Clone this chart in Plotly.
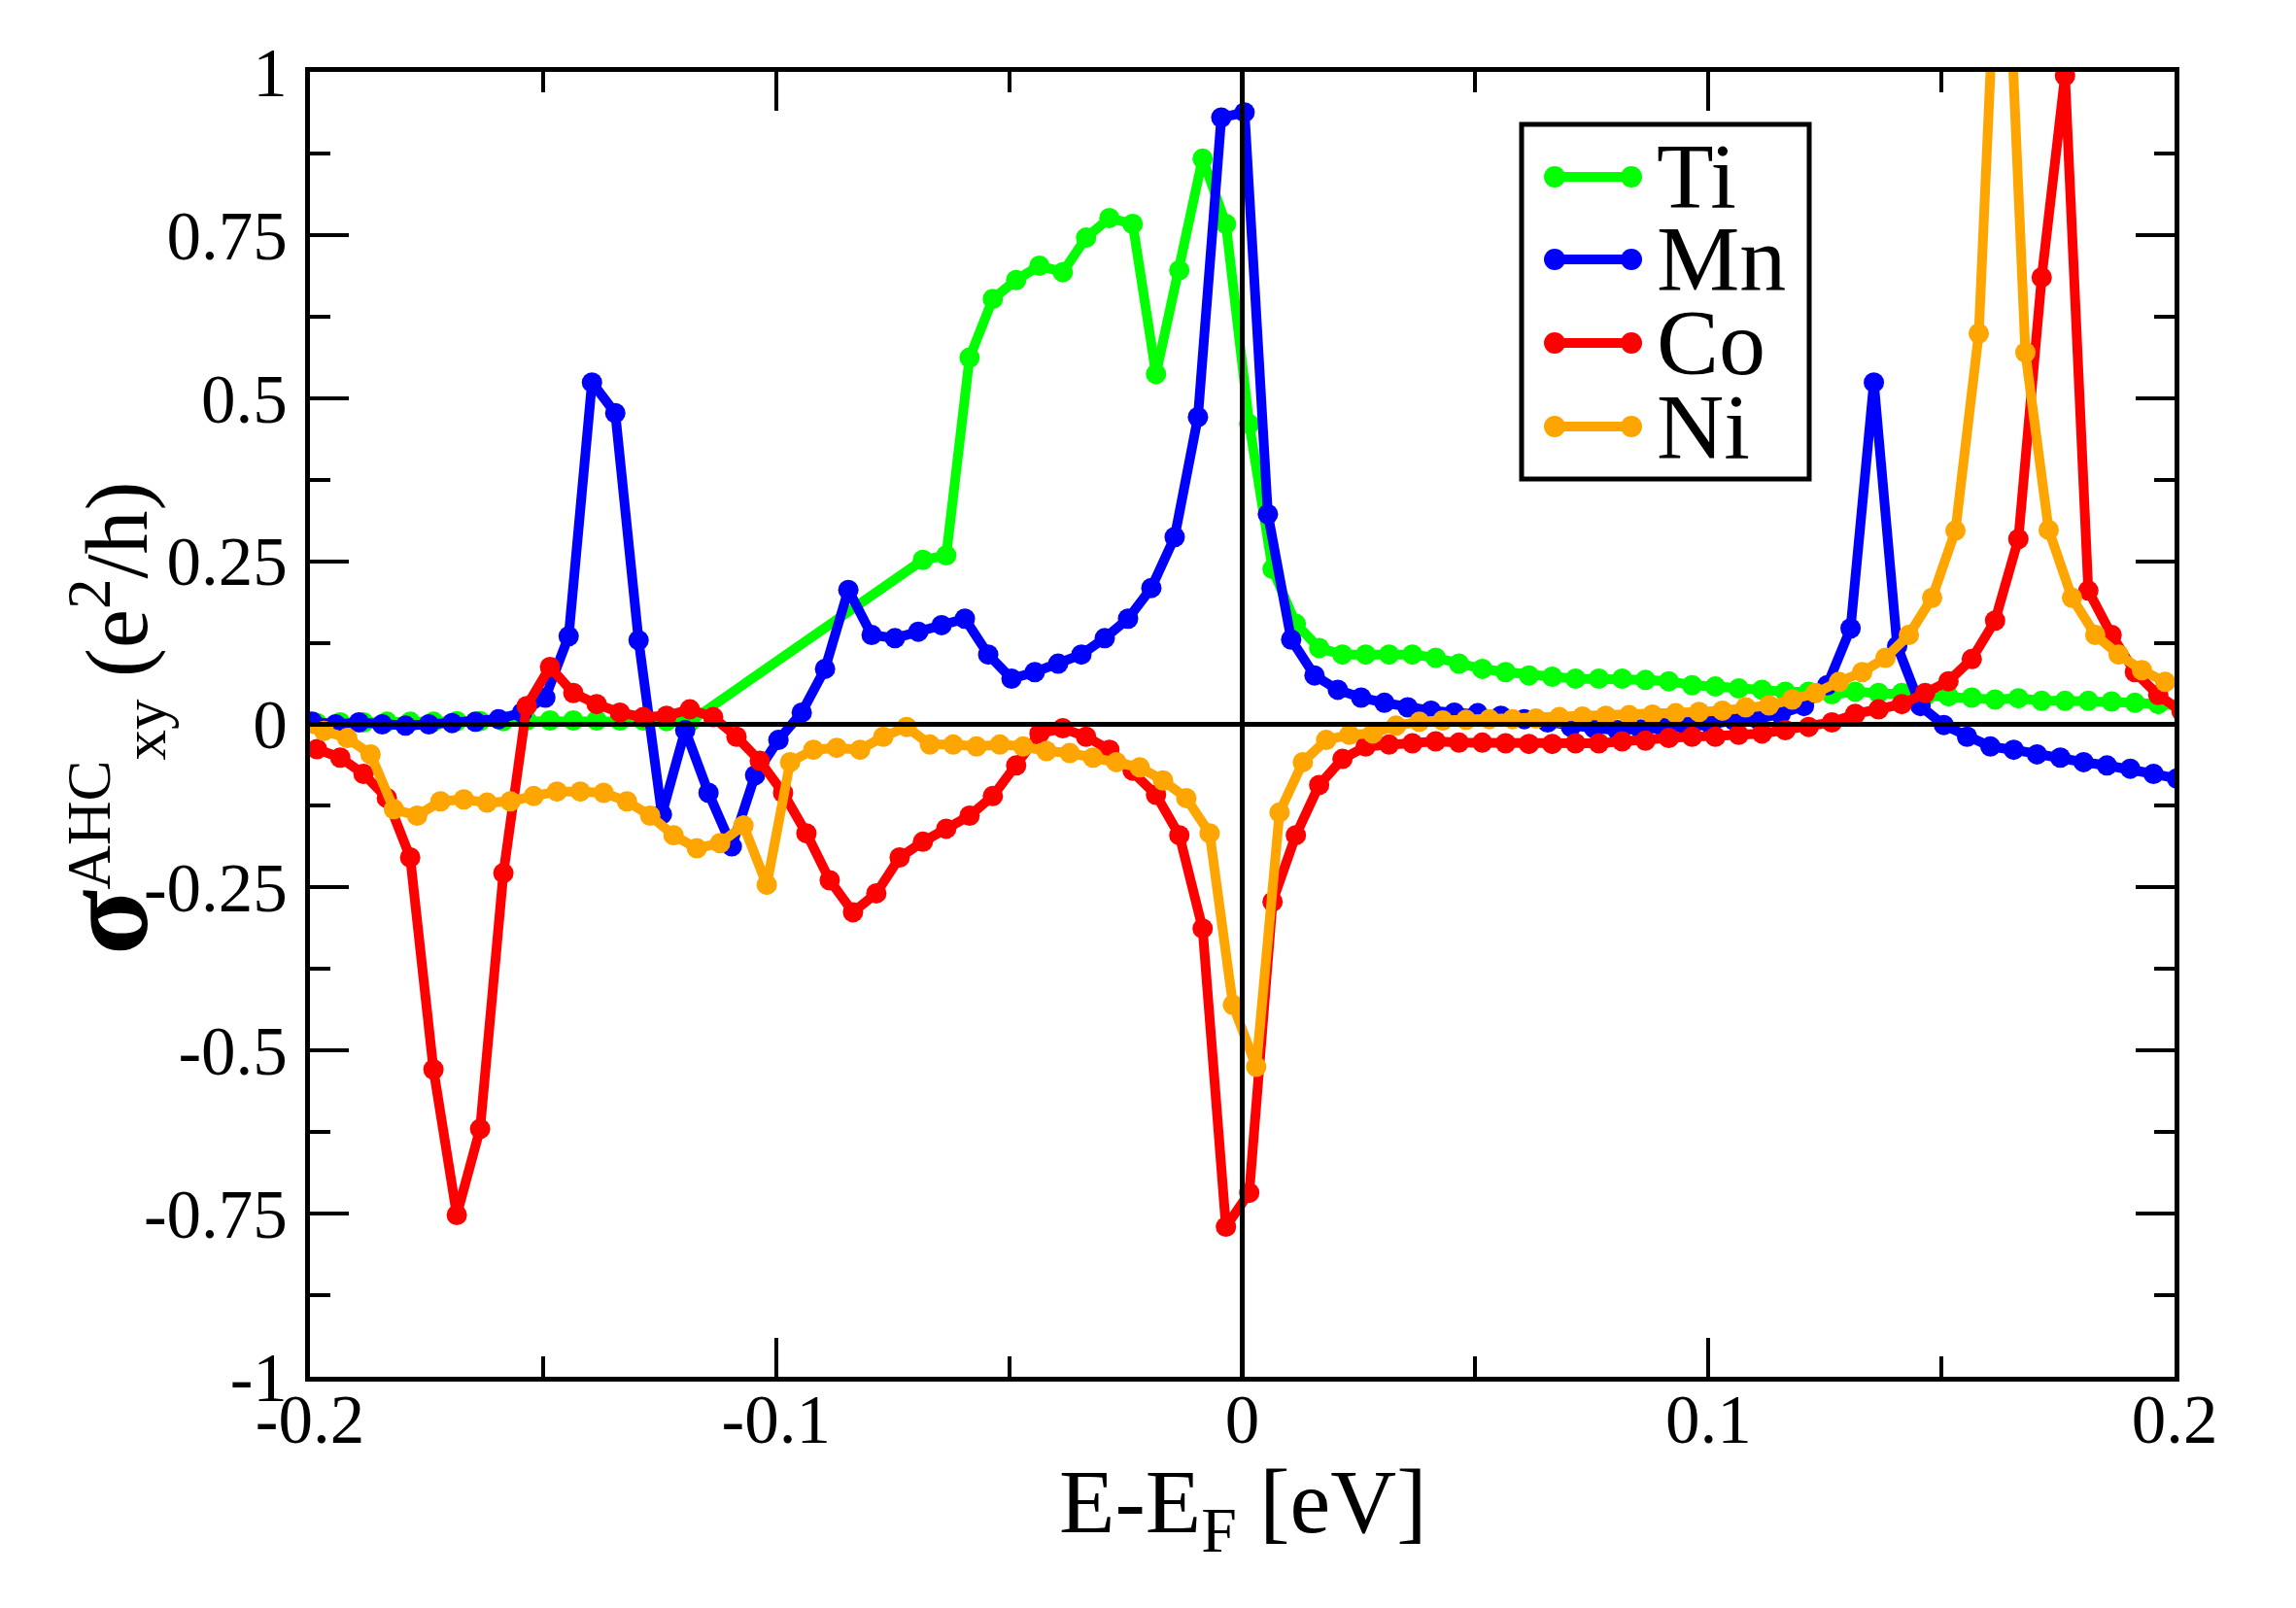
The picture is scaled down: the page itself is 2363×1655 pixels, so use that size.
import plotly.graph_objects as go

# ---------------- data ----------------
energy = [
    -0.200, -0.195, -0.190, -0.185, -0.180, -0.175, -0.170, -0.165, -0.160, -0.155,
    -0.150, -0.145, -0.140, -0.135, -0.130, -0.125, -0.120, -0.115, -0.110, -0.105,
    -0.100, -0.095, -0.090, -0.085, -0.080, -0.075, -0.070, -0.065, -0.060, -0.055,
    -0.050, -0.045, -0.040, -0.035, -0.030, -0.025, -0.020, -0.015, -0.010, -0.005,
    0.000, 0.005, 0.010, 0.015, 0.020, 0.025, 0.030, 0.035, 0.040, 0.045,
    0.050, 0.055, 0.060, 0.065, 0.070, 0.075, 0.080, 0.085, 0.090, 0.095,
    0.100, 0.105, 0.110, 0.115, 0.120, 0.125, 0.130, 0.135, 0.140, 0.145,
    0.150, 0.155, 0.160, 0.165, 0.170, 0.175, 0.180, 0.185, 0.190, 0.195,
    0.200,
]

# Fermi-level offsets of each compound's energy mesh (eV)
shift_ti = 0.0015
shift_mn = 0.0005
shift_co = 0.0015
shift_ni = -0.0020

ahc_ti = [
    0.002, 0.003, 0.003, 0.004, 0.004, 0.004, 0.005, 0.005, 0.005, 0.006,
    0.006, 0.006, 0.006, 0.006, 0.006, 0.005, 0.004, None, None, None,
    None, None, None, None, None, None, 0.252, 0.259, 0.562, 0.652,
    0.681, 0.703, 0.693, 0.746, 0.776, 0.767, 0.537, 0.696, 0.867, 0.767,
    0.460, 0.238, 0.154, 0.117, 0.107, 0.107, 0.107, 0.107, 0.102, 0.093,
    0.085, 0.080, 0.075, 0.073, 0.070, 0.070, 0.070, 0.068, 0.066, 0.060,
    0.058, 0.055, 0.053, 0.050, 0.050, 0.046, 0.050, 0.048, 0.048, 0.043,
    0.043, 0.041, 0.038, 0.040, 0.036, 0.036, 0.036, 0.035, 0.033, 0.031,
    0.028,
]

ahc_mn = [
    0.004, 0.000, 0.003, 0.000, -0.002, 0.000, 0.002, 0.004, 0.008, 0.018,
    0.041, 0.135, 0.524, 0.477, 0.129, -0.138, -0.009, -0.105, -0.187, -0.078,
    -0.024, 0.018, 0.085, 0.206, 0.137, 0.132, 0.142, 0.152, 0.162, 0.107,
    0.070, 0.080, 0.093, 0.107, 0.132, 0.162, 0.209, 0.287, 0.471, 0.930,
    0.938, 0.322, 0.130, 0.075, 0.053, 0.041, 0.033, 0.026, 0.021, 0.018,
    0.017, 0.013, 0.008, 0.003, -0.004, -0.006, -0.009, -0.008, -0.006, -0.004,
    0.000, 0.006, 0.008, 0.016, 0.028, 0.060, 0.147, 0.524, 0.120, 0.028,
    -0.001, -0.019, -0.034, -0.039, -0.046, -0.051, -0.058, -0.063, -0.068, -0.076,
    -0.083,
]

ahc_co = [
    -0.038, -0.051, -0.076, -0.113, -0.204, -0.529, -0.752, -0.620, -0.228, 0.028,
    0.088, 0.048, 0.031, 0.018, 0.011, 0.013, 0.023, 0.011, -0.019, -0.056,
    -0.105, -0.167, -0.239, -0.288, -0.259, -0.204, -0.180, -0.160, -0.140, -0.110,
    -0.063, -0.014, -0.006, -0.019, -0.039, -0.071, -0.108, -0.170, -0.313, -0.770,
    -0.718, -0.272, -0.170, -0.093, -0.053, -0.034, -0.031, -0.029, -0.026, -0.028,
    -0.028, -0.029, -0.030, -0.030, -0.029, -0.029, -0.026, -0.025, -0.021, -0.019,
    -0.019, -0.016, -0.014, -0.009, -0.004, 0.003, 0.016, 0.023, 0.031, 0.048,
    0.066, 0.100, 0.159, 0.284, 0.685, 0.994, 0.205, 0.137, 0.080, 0.045,
    0.020,
]

ahc_ni = [
    -0.004, -0.010, -0.021, -0.046, -0.130, -0.140, -0.118, -0.115, -0.120, -0.118,
    -0.110, -0.103, -0.103, -0.105, -0.118, -0.140, -0.170, -0.190, -0.182, -0.155,
    -0.246, -0.058, -0.039, -0.036, -0.039, -0.019, -0.004, -0.031, -0.031, -0.034,
    -0.031, -0.034, -0.041, -0.044, -0.051, -0.058, -0.066, -0.086, -0.113, -0.167,
    -0.430, -0.525, -0.135, -0.058, -0.024, -0.016, -0.014, -0.002, 0.004, 0.006,
    0.007, 0.008, 0.008, 0.009, 0.011, 0.012, 0.013, 0.014, 0.015, 0.017,
    0.019, 0.021, 0.026, 0.029, 0.038, 0.048, 0.065, 0.080, 0.102, 0.137,
    0.194, 0.297, 0.599, 1.400, 0.570, 0.298, 0.194, 0.137, 0.107, 0.083,
    0.065,
]

series_names = ["Ti", "Mn", "Co", "Ni"]
series_values = [ahc_ti, ahc_mn, ahc_co, ahc_ni]
series_shifts = [shift_ti, shift_mn, shift_co, shift_ni]

x_tick_vals = [-0.2, -0.1, 0.0, 0.1, 0.2]
x_tick_text = ["-0.2", "-0.1", "0", "0.1", "0.2"]
x_minor_vals = [-0.15, -0.05, 0.05, 0.15]
y_tick_vals = [-1, -0.75, -0.5, -0.25, 0, 0.25, 0.5, 0.75, 1]
y_tick_text = ["-1", "-0.75", "-0.5", "-0.25", "0", "0.25", "0.5", "0.75", "1"]
y_minor_vals = [-0.875, -0.625, -0.375, -0.125, 0.125, 0.375, 0.625, 0.875]

# ---------------- style ----------------
colors = ["#00ff00", "#0000ff", "#ff0000", "#ffa500"]
FONT = "Liberation Serif, Times New Roman, serif"
W, H = 2363, 1655
ML, MR, MT, MB = 319, 125, 74, 238
LINE_W = 10
MARK_S = 21

fig = go.Figure()
for name, vals, sh, col in zip(series_names, series_values, series_shifts, colors):
    fig.add_trace(go.Scatter(
        x=[round(e + sh, 4) for e in energy], y=vals, name=name,
        mode="lines+markers", connectgaps=True, showlegend=False,
        line=dict(color=col, width=LINE_W),
        marker=dict(color=col, size=MARK_S),
    ))

axis_common = dict(
    showline=True, linewidth=5, linecolor="black", mirror="ticks",
    ticks="inside", ticklen=40, tickwidth=4, tickcolor="black",
    showgrid=False, zeroline=False, automargin=False,
    tickfont=dict(family=FONT, size=71, color="black"),
)
fig.update_xaxes(range=[-0.2, 0.2], tickmode="array", tickvals=x_tick_vals, ticktext=x_tick_text,
                 ticklabelstandoff=-22,
                 minor=dict(tickmode="array", tickvals=x_minor_vals, ticks="inside", ticklen=21,
                            tickwidth=4, tickcolor="black", showgrid=False),
                 **axis_common)
fig.update_yaxes(range=[-1, 1], tickmode="array", tickvals=y_tick_vals, ticktext=y_tick_text,
                 ticklabelstandoff=4,
                 minor=dict(tickmode="array", tickvals=y_minor_vals, ticks="inside", ticklen=21,
                            tickwidth=4, tickcolor="black", showgrid=False),
                 **axis_common)

shapes = [
    dict(type="line", xref="paper", yref="y", x0=0, x1=1, y0=0, y1=0,
         line=dict(color="black", width=5), layer="above"),
    dict(type="line", xref="x", yref="paper", x0=0, x1=0, y0=0, y1=1,
         line=dict(color="black", width=5), layer="above"),
]

# custom legend (box, sample lines with end markers, labels)
pw = W - ML - MR
ph = H - MT - MB
def px2x(px):
    return (px - ML) / pw
def py2y(py):
    return (H - MB - py) / ph

shapes.append(dict(type="rect", xref="paper", yref="paper",
                   x0=px2x(1566), x1=px2x(1862), y0=py2y(493), y1=py2y(128),
                   line=dict(color="black", width=5), fillcolor="white", layer="above"))
row_py = [182, 267, 353, 439]
annotations = []
for name, col, rp in zip(series_names, colors, row_py):
    yy = py2y(rp)
    shapes.append(dict(type="line", xref="paper", yref="paper", x0=px2x(1600), x1=px2x(1679),
                       y0=yy, y1=yy, line=dict(color=col, width=LINE_W), layer="above"))
    for cx in (1600, 1679):
        shapes.append(dict(type="circle", xref="paper", yref="paper",
                           xsizemode="pixel", ysizemode="pixel",
                           xanchor=px2x(cx), yanchor=yy, x0=-11, x1=11, y0=-11, y1=11,
                           fillcolor=col, line=dict(width=0), layer="above"))
    annotations.append(dict(text=name, xref="paper", yref="paper", x=px2x(1703), y=yy,
                            xanchor="left", yanchor="middle", showarrow=False,
                            font=dict(family=FONT, size=96, color="black")))

annotations.append(dict(text="E-E<sub>F</sub> [eV]", xref="paper", yref="paper",
                        x=0.5, y=py2y(1552), xanchor="center", yanchor="middle", showarrow=False,
                        font=dict(family=FONT, size=94, color="black")))
annotations.append(dict(text="<span style='font-size:124px'><b>σ</b></span><sup>AHC</sup><sub>xy</sub> (e<sup>2</sup>/h)",
                        xref="paper", yref="paper", x=px2x(112), y=py2y(740),
                        xanchor="center", yanchor="middle", textangle=-90, showarrow=False,
                        font=dict(family=FONT, size=90, color="black")))

fig.update_layout(
    width=W, height=H,
    margin=dict(l=ML, r=MR, t=MT, b=MB, pad=0),
    paper_bgcolor="white", plot_bgcolor="white",
    showlegend=False,
    shapes=shapes, annotations=annotations,
)

fig.write_html("out.html")
